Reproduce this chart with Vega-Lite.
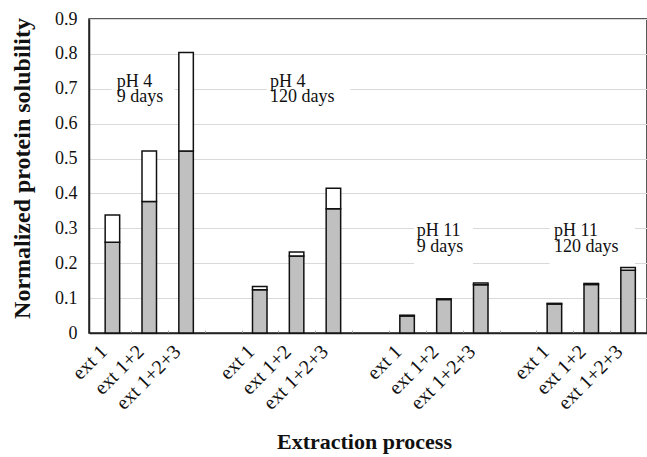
{
  "$schema": "https://vega.github.io/schema/vega-lite/v6.json",
  "autosize": "none",
  "padding": {"left": 89, "top": 19, "right": 0, "bottom": 124},
  "width": 558,
  "height": 314,
  "background": "white",
  "config": {
    "view": {"stroke": "#222", "strokeWidth": 1.5},
    "font": "Liberation Serif"
  },
  "datasets": {
    "bars": [
      {"position": 0, "extraction": "ext 1", "condition": "pH 4, 9 days", "part": "lower", "value": 0.26},
      {"position": 0, "extraction": "ext 1", "condition": "pH 4, 9 days", "part": "upper", "value": 0.078},
      {"position": 1, "extraction": "ext 1+2", "condition": "pH 4, 9 days", "part": "lower", "value": 0.377},
      {"position": 1, "extraction": "ext 1+2", "condition": "pH 4, 9 days", "part": "upper", "value": 0.145},
      {"position": 2, "extraction": "ext 1+2+3", "condition": "pH 4, 9 days", "part": "lower", "value": 0.522},
      {"position": 2, "extraction": "ext 1+2+3", "condition": "pH 4, 9 days", "part": "upper", "value": 0.282},
      {"position": 4, "extraction": "ext 1", "condition": "pH 4, 120 days", "part": "lower", "value": 0.124},
      {"position": 4, "extraction": "ext 1", "condition": "pH 4, 120 days", "part": "upper", "value": 0.009},
      {"position": 5, "extraction": "ext 1+2", "condition": "pH 4, 120 days", "part": "lower", "value": 0.221},
      {"position": 5, "extraction": "ext 1+2", "condition": "pH 4, 120 days", "part": "upper", "value": 0.011},
      {"position": 6, "extraction": "ext 1+2+3", "condition": "pH 4, 120 days", "part": "lower", "value": 0.356},
      {"position": 6, "extraction": "ext 1+2+3", "condition": "pH 4, 120 days", "part": "upper", "value": 0.059},
      {"position": 8, "extraction": "ext 1", "condition": "pH 11, 9 days", "part": "lower", "value": 0.049},
      {"position": 8, "extraction": "ext 1", "condition": "pH 11, 9 days", "part": "upper", "value": 0.002},
      {"position": 9, "extraction": "ext 1+2", "condition": "pH 11, 9 days", "part": "lower", "value": 0.096},
      {"position": 9, "extraction": "ext 1+2", "condition": "pH 11, 9 days", "part": "upper", "value": 0.002},
      {"position": 10, "extraction": "ext 1+2+3", "condition": "pH 11, 9 days", "part": "lower", "value": 0.138},
      {"position": 10, "extraction": "ext 1+2+3", "condition": "pH 11, 9 days", "part": "upper", "value": 0.005},
      {"position": 12, "extraction": "ext 1", "condition": "pH 11, 120 days", "part": "lower", "value": 0.083},
      {"position": 12, "extraction": "ext 1", "condition": "pH 11, 120 days", "part": "upper", "value": 0.002},
      {"position": 13, "extraction": "ext 1+2", "condition": "pH 11, 120 days", "part": "lower", "value": 0.139},
      {"position": 13, "extraction": "ext 1+2", "condition": "pH 11, 120 days", "part": "upper", "value": 0.003},
      {"position": 14, "extraction": "ext 1+2+3", "condition": "pH 11, 120 days", "part": "lower", "value": 0.18},
      {"position": 14, "extraction": "ext 1+2+3", "condition": "pH 11, 120 days", "part": "upper", "value": 0.008}
    ],
    "boxes": [
      {"position": -0.02, "position2": 1.69, "value": 0.64, "value2": 0.765},
      {"position": 4.19, "position2": 6.46, "value": 0.64, "value2": 0.765},
      {"position": 8.19, "position2": 9.79, "value": 0.19, "value2": 0.325},
      {"position": 11.87, "position2": 14.19, "value": 0.19, "value2": 0.325}
    ],
    "notes": [
      {"position": 0.12, "value": 0.706, "label": "pH 4\n9 days"},
      {"position": 4.28, "value": 0.706, "label": "pH 4\n120 days"},
      {"position": 8.26, "value": 0.277, "label": "pH 11\n9 days"},
      {"position": 11.99, "value": 0.277, "label": "pH 11\n120 days"}
    ]
  },
  "encoding": {
    "x": {
      "field": "position",
      "type": "quantitative",
      "scale": {"domain": [-0.5, 14.5], "range": [0, 562.5], "nice": false, "zero": false},
      "axis": {
        "title": "Extraction process",
        "titleFont": "Liberation Serif",
        "titleFontSize": 22,
        "titleFontWeight": "bold",
        "titleColor": "#111",
        "titleX": 275,
        "titleY": 115,
        "titleBaseline": "alphabetic",
        "values": [0, 1, 2, 3, 4, 5, 6, 7, 8, 9, 10, 11, 12, 13, 14],
        "labelExpr": "['ext 1', 'ext 1+2', 'ext 1+2+3', ''][datum.value % 4]",
        "labelAngle": -45,
        "labelOverlap": false,
        "labelFont": "Liberation Serif",
        "labelFontSize": 20,
        "labelColor": "#111",
        "labelPadding": 11,
        "tickOffset": 18.75,
        "labelOffset": -34.75,
        "tickSize": -3,
        "tickColor": "#aaa",
        "grid": false,
        "domainColor": "#222",
        "domainWidth": 1.5
      }
    },
    "y": {
      "field": "value",
      "type": "quantitative",
      "scale": {"domain": [0, 0.9], "nice": false, "zero": true},
      "axis": {
        "title": "Normalized protein solubility",
        "titleFont": "Liberation Serif",
        "titleFontSize": 24,
        "titleFontWeight": "bold",
        "titleColor": "#111",
        "titlePadding": 20,
        "titleY": 149,
        "values": [0, 0.1, 0.2, 0.3, 0.4, 0.5, 0.6, 0.7, 0.8, 0.9],
        "labelExpr": "datum.value == 0 ? '0' : format(datum.value, '.1f')",
        "labelFont": "Liberation Serif",
        "labelFontSize": 18,
        "labelColor": "#111",
        "labelPadding": 12,
        "ticks": false,
        "grid": true,
        "gridColor": "#d9d9d9",
        "gridWidth": 1,
        "domainColor": "#222",
        "domainWidth": 1.5
      }
    }
  },
  "layer": [
    {
      "data": {"name": "boxes"},
      "mark": {"type": "rect", "fill": "white"},
      "encoding": {
        "x2": {"field": "position2"},
        "y2": {"field": "value2"}
      }
    },
    {
      "data": {"name": "bars"},
      "mark": {"type": "bar", "stroke": "#111", "strokeWidth": 1.5, "width": 14.5},
      "encoding": {
        "color": {
          "field": "part",
          "type": "nominal",
          "scale": {"domain": ["lower", "upper"], "range": ["#c0c0c0", "#ffffff"]},
          "legend": null
        },
        "order": {"field": "part", "sort": "ascending"}
      }
    },
    {
      "data": {"name": "notes"},
      "mark": {"type": "text", "align": "left", "baseline": "alphabetic", "lineBreak": "\n", "lineHeight": 15.5, "fontSize": 18, "font": "Liberation Serif", "color": "#111"},
      "encoding": {
        "text": {"field": "label"}
      }
    }
  ]
}
